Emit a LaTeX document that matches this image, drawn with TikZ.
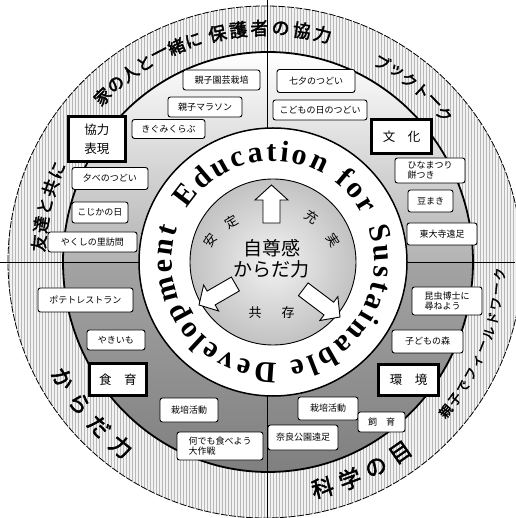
\documentclass[tikz,border=0pt]{standalone}
\usepackage{fontspec}
\usetikzlibrary{patterns}
\newfontfamily\jp{Noto Sans CJK JP}
\newfontfamily\jpb{Noto Sans CJK JP}[FakeBold=2.5]
\newfontfamily\edu{Liberation Serif}
\newcommand\edusize{30}
\newcommand\edufont{\edu\bfseries\fontsize{30}{32}\selectfont}
% characters of a Japanese label set one by one along a circle
\newcommand\ringtext[7]{% #1 name, #2 start angle, #3 step, #4 radius, #5 rotation offset, #6 size, #7 list
  \foreach \ch [count=\i from 0] in {#7}{%
    \pgfmathsetmacro\ang{#2+\i*(#3)}%
    \node[inner sep=0pt, font=\jpb\fontsize{#6}{#6}\selectfont, rotate=\ang+(#5)] (#1\i) at (\ang:#4) {\ch};%
  }%
}
% Latin text set clockwise along a circle, tops outward (widths in em, Times Bold metrics)
\newcommand\edutext[4]{% #1 start angle, #2 baseline radius, #3 extra gap, #4 list char/width
  \xdef\curang{#1}%
  \foreach \ch/\w [count=\i] in {#4}{%
    \pgfmathsetmacro\halfang{deg((\w*\edusize+#3)/2/#2)}%
    \pgfmathsetmacro\midang{\curang-\halfang}%
    \node[inner sep=0pt, anchor=base, font=\edufont, rotate=\midang-90] (edu\i) at (\midang:#2) {\ch};%
    \pgfmathsetmacro\nextang{\curang-2*\halfang}%
    \xdef\curang{\nextang}%
  }%
}
\begin{document}
\begin{tikzpicture}[x=1pt,y=1pt,
  itembox/.style={draw, rounded corners=2.5pt, fill=white, line width=0.9pt, inner sep=1pt,
    font=\jp\fontsize{9}{11}\selectfont, align=center},
  catbox/.style={draw, line width=2.6pt, fill=white, inner sep=1pt,
    font=\jp\fontsize{12.5}{19}\selectfont, align=center},
  arrowshape/.style={draw, fill=white, line width=0.9pt, line join=miter},
  divline/.style={line width=0.7pt},
  innertext/.style={font=\jp\fontsize{19}{21}\selectfont, inner sep=0pt},
  smalltext/.style={font=\jp\fontsize{13}{13}\selectfont, inner sep=0pt}]
\useasboundingbox (-268,-256) rectangle (247,262);
% outer hatched ring
\fill[black!5] (-3,0) ellipse (257 and 256);
\fill[pattern=vertical lines, pattern color=black!28] (-3,0) ellipse (257 and 256);
\draw[line width=0.8pt, dash pattern=on 7pt off 1.5pt] (-3,0) ellipse (257 and 256);
% middle ring
\shade[top color=white, bottom color=black!30] (-205,0) arc (180:0:205 and 210) -- cycle;
\shade[top color=black!36, bottom color=black!50] (-205,0) arc (180:360:205 and 210) -- cycle;
\draw[line width=1.8pt] (0,0) ellipse (205 and 210);
% quadrant lines
\draw[divline] (-268,0) -- (-120,0);
\draw[divline] (120,0) -- (247,0);
\draw[divline] (-1,262) -- (-1,120);
\draw[divline] (-1,-120) -- (-1,-256);
% inner part
\begin{scope}[xshift=5pt]
\draw[fill=white, line width=1.5pt] (0,0) circle (134);
\shade[inner color=black!5, outer color=black!24] (0,0) circle (83);
\draw[line width=0.9pt] (0,0) circle (83);
\edutext{149}{101}{2.9}{E/.667,d/.556,u/.556,c/.444,a/.5,t/.333,i/.278,o/.5,n/.556,{}/.25,f/.333,o/.5,r/.444,{}/.25,S/.556,u/.556,s/.389,t/.333,a/.5,i/.278,n/.556,a/.5,b/.556,l/.278,e/.444,{}/.25,D/.722,e/.444,v/.5,e/.444,l/.278,o/.5,p/.556,m/.833,e/.444,n/.556,t/.333}
% arrows
\begin{scope}[shift={(-1.5,77)}, rotate=-90]
\draw[arrowshape] (0,0) -- (15,16.5) -- (15,8.5) -- (38,8.5) -- (38,-8.5) -- (15,-8.5) -- (15,-16.5) -- cycle;
\end{scope}
\begin{scope}[shift={(-74,-43)}, rotate=30]
\draw[arrowshape] (0,0) -- (14,15) -- (14,8) -- (42,8) -- (42,-8) -- (14,-8) -- (14,-15) -- cycle;
\end{scope}
\begin{scope}[shift={(67,-55)}, rotate=143]
\draw[arrowshape] (0,0) -- (14,15) -- (14,8) -- (46,8) -- (46,-8) -- (14,-8) -- (14,-15) -- cycle;
\end{scope}
\node[innertext] (jison) at (-1,14) {自尊感};
\node[innertext] (karada) at (-2,-7) {からだ力};
\node[smalltext, rotate=54] (an) at (-63,22) {安};
\node[smalltext, rotate=31] (tei) at (-41,40) {定};
\node[smalltext, rotate=-34] (ju) at (39,45) {充};
\node[smalltext, rotate=-57] (jitsu) at (60,22) {実};
\node[smalltext] (kyo) at (-18,-51) {共};
\node[smalltext] (son) at (15,-51) {存};
\end{scope}
% ring texts
\ringtext{ie}{135}{-4.4}{234}{-90}{17}{家,の,人,と,一,緒,に}
\ringtext{ho}{102.5}{-5.2}{234}{-90}{18}{保,護,者,の,協,力}
\ringtext{bt}{60.2}{-4.04}{230}{-90}{16}{ブ,ッ,ク,ト,ー,ク}
\ringtext{tomo}{175.3}{-4.7}{230}{-90}{17}{友,達,と,共,に}
\ringtext{kara}{209.6}{7.3}{236}{90}{22}{か,ら,だ,力}
\ringtext{kaga}{283.6}{7.07}{232}{90}{22}{科,学,の,目}
\ringtext{oya}{-40}{3.7}{232}{90}{13}{親,子,で,フ,ィ,ー,ル,ド,ワ,ー,ク}
% boxes in image coordinates
\begin{scope}[shift={(-268,262)}, y=-1pt]
\node[catbox, minimum width=57.5, minimum height=45.5] (kyoryoku) at (97,139) {協力\\表現};
\node[catbox, minimum width=60.5, minimum height=34.5] (bunka) at (401.5,136.5) {文　化};
\node[catbox, minimum width=57.5, minimum height=32.5] (shokuiku) at (118,379.5) {食　育};
\node[catbox, minimum width=60.5, minimum height=31.5] (kankyo) at (408.5,380) {環　境};
\node[itembox, minimum width=77, minimum height=20] (engei) at (221.5,80) {親子園芸栽培};
\node[itembox, minimum width=74, minimum height=20] (marathon) at (205,107) {親子マラソン};
\node[itembox, minimum width=73, minimum height=19] (kigumi) at (168.5,129) {きぐみくらぶ};
\node[itembox, minimum width=76, minimum height=22] (yube) at (110,178.5) {夕べのつどい};
\node[itembox, minimum width=56, minimum height=21] (kojika) at (100,212.5) {こじかの日};
\node[itembox, minimum width=89, minimum height=20] (yakushi) at (92.5,242) {やくしの里訪問};
\node[itembox, minimum width=78, minimum height=23] (tanabata) at (316,81) {七夕のつどい};
\node[itembox, minimum width=94, minimum height=20] (kodomo) at (320,110) {こどもの日のつどい};
\node[itembox, minimum width=70, minimum height=25, align=left, font=\jp\fontsize{9}{10.5}\selectfont] (hina) at (430,170.5) {ひなまつり\\餅つき};
\node[itembox, minimum width=45, minimum height=22] (mame) at (430.5,201) {豆まき};
\node[itembox, minimum width=70, minimum height=22] (todaiji) at (442,234) {東大寺遠足};
\node[itembox, minimum width=95, minimum height=24] (potato) at (85.5,300) {ポテトレストラン};
\node[itembox, minimum width=58, minimum height=20] (yakiimo) at (116,340) {やきいも};
\node[itembox, minimum width=58, minimum height=24] (saibaiL) at (189,410) {栽培活動};
\node[itembox, minimum width=86, minimum height=28, align=left, font=\jp\fontsize{9}{10.5}\selectfont] (nandemo) at (220,446) {何でも食べよう\\大作戦};
\node[itembox, minimum width=70, minimum height=28, align=left, font=\jp\fontsize{9}{10.5}\selectfont] (konchu) at (447,301) {昆虫博士に\\尋ねよう};
\node[itembox, minimum width=71, minimum height=23] (mori) at (427.5,341.5) {子どもの森};
\node[itembox, minimum width=60, minimum height=23] (saibaiR) at (328,408.5) {栽培活動};
\node[itembox, minimum width=47, minimum height=20] (shiiku) at (381.5,422) {飼　育};
\node[itembox, minimum width=70, minimum height=25] (nara) at (303,437.5) {奈良公園遠足};
\end{scope}
\end{tikzpicture}
\end{document}
